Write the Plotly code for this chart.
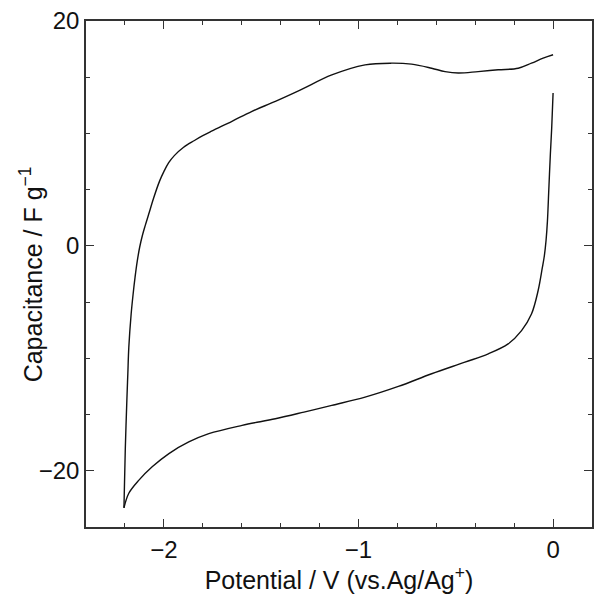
import plotly.graph_objects as go

# Upper (forward) branch: from -2.2 V up to 0 V
up_x = [-2.205, -2.202, -2.198, -2.19, -2.185, -2.18, -2.168, -2.158, -2.148, -2.137, -2.124,
        -2.110, -2.095, -2.078, -2.052, -2.022, -2.0, -1.975, -1.945, -1.90, -1.845,
        -1.80, -1.755, -1.65, -1.547, -1.427, -1.30, -1.137, -0.966, -0.829, -0.727,
        -0.624, -0.555, -0.487, -0.385, -0.282, -0.179, -0.111, -0.051, 0.0]
up_y = [-23.3, -21.0, -18.0, -13.7, -11.35, -9.0, -6.06, -4.3, -2.8, -1.4, -0.1,
        0.95, 1.85, 2.81, 4.28, 5.76, 6.6, 7.4, 8.05, 8.75, 9.35,
        9.8, 10.2, 11.08, 11.97, 12.85, 13.85, 15.2, 16.1, 16.25, 16.16,
        15.8, 15.5, 15.37, 15.5, 15.66, 15.8, 16.25, 16.7, 17.0]

# Lower (reverse) branch: from 0 V back to -2.2 V
lo_x = [0.0, -0.007, -0.014, -0.022, -0.029, -0.036, -0.045, -0.055, -0.077, -0.111, -0.162,
        -0.231, -0.333, -0.453, -0.624, -0.795, -0.966, -1.137, -1.28,
        -1.427, -1.598, -1.769, -1.872, -1.974, -2.06, -2.128, -2.18, -2.205]
lo_y = [13.6, 10.5, 8.13, 5.0, 2.2, 0.5, -0.9, -1.92, -3.99, -6.06, -7.54,
        -8.72, -9.6, -10.34, -11.37, -12.5, -13.45, -14.18, -14.78,
        -15.37, -15.96, -16.7, -17.44, -18.47, -19.65, -20.83, -22.0, -23.3]

x_ticks = [-2, -1, 0]
y_ticks = [-20, 0, 20]

FONT = "Liberation Sans, Arial, sans-serif"

fig = go.Figure()
for xs, ys in [(up_x, up_y), (lo_x, lo_y)]:
    fig.add_trace(go.Scatter(x=xs, y=ys, mode="lines",
                             line=dict(color="#111111", width=1.4, shape="spline", smoothing=1.0),
                             showlegend=False, hoverinfo="skip"))

axis_common = dict(
    showgrid=False, zeroline=False, showline=True, linecolor="#333333", linewidth=1.5,
    mirror="allticks", ticks="inside", ticklen=8, tickwidth=1.3, tickcolor="#333333",
    tickfont=dict(family=FONT, size=24, color="#111111"),
)

fig.update_xaxes(range=[-2.4, 0.2], tickvals=x_ticks, ticktext=["\u22122", "\u22121", "0"],
                 minor=dict(dtick=0.2, tick0=0, ticks="inside", ticklen=4, tickwidth=1.2, tickcolor="#333333"),
                 title=dict(text="Potential / V (vs.Ag/Ag<sup>+</sup>)", standoff=6,
                            font=dict(family=FONT, size=25, color="#111111")),
                 **axis_common)
fig.update_yaxes(range=[-25, 20], tickvals=y_ticks, ticktext=["\u221220", "0", "20"],
                 minor=dict(dtick=5, tick0=0, ticks="inside", ticklen=4, tickwidth=1.2, tickcolor="#333333"),
                 **axis_common)

fig.add_annotation(text="Capacitance / F g<sup>\u22121</sup>", textangle=-90,
                   xref="paper", yref="paper", x=-0.108, y=0.5, xanchor="center", yanchor="middle",
                   showarrow=False, font=dict(family=FONT, size=25, color="#111111"))

fig.update_layout(
    width=601, height=603,
    margin=dict(l=86, r=7, t=20, b=76),
    plot_bgcolor="white", paper_bgcolor="white",
)

fig.write_html("out.html")
